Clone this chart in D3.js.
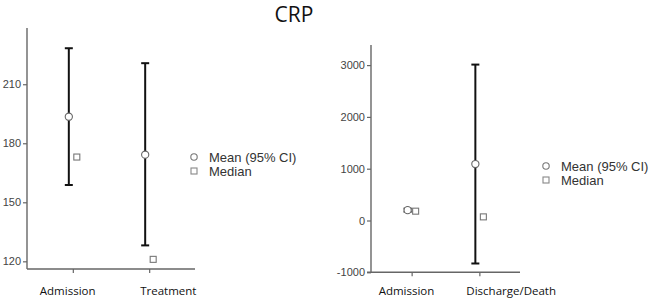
<!DOCTYPE html>
<html>
<head>
<meta charset="utf-8">
<script src="https://cdn.jsdelivr.net/npm/d3@7"></script>
<style>
  body { margin: 0; background: #fff; }
  svg { display: block; }
</style>
</head>
<body>
<svg id="drawing_region" width="652" height="299"></svg>
<script>
// CRP, left panel
const left_categories = ['Admission', 'Treatment'];
const left_mean   = [193.5, 174.2];
const left_lower  = [158.8, 128.1];
const left_upper  = [228.3, 220.7];
const left_median = [173, 121];
const left_ticks  = [120, 150, 180, 210];

// CRP, right panel
const right_categories = ['Admission', 'Discharge/Death'];
const right_mean   = [200, 1090];
const right_lower  = [170, -830];
const right_upper  = [230, 3010];
const right_median = [180, 70];
const right_ticks  = [-1000, 0, 1000, 2000, 3000];

const legend_labels = ['Mean (95% CI)', 'Median'];

const svg = d3.select('#drawing_region');

svg.append('text')
    .attr('x', 294)
    .attr('y', 22)
    .attr('text-anchor', 'middle')
    .style('font-family', '"Open Sans", "Noto Sans", sans-serif')
    .style('font-size', '21px')
    .style('fill', '#111')
    .text('CRP');

function drawPanel(config, cats, mean, lower, upper, median, ticks) {
    const data = cats.map((c, i) => ({
        cat: c, mean: mean[i], lower: lower[i], upper: upper[i], median: median[i]
    }));

    const xscale = d3.scalePoint()
        .domain(cats)
        .range([config.left, config.right])
        .padding(0.6);

    const yscale = d3.scaleLinear()
        .domain(config.ydomain)
        .range([config.bottom, config.top]);

    const g = svg.append('g');

    // y axis
    const yaxis = d3.axisLeft(yscale)
        .tickValues(ticks)
        .tickFormat(d => String(d))
        .tickSize(4)
        .tickSizeOuter(0)
        .tickPadding(2);
    const yg = g.append('g')
        .attr('transform', `translate(${config.left}, 0)`)
        .call(yaxis);
    yg.select('.domain').remove();
    yg.selectAll('.tick line').attr('stroke', '#666').attr('stroke-width', 1.2);
    yg.selectAll('.tick text')
        .attr('fill', '#444')
        .style('font-family', '"Liberation Sans", Arial, sans-serif')
        .style('font-size', '11px');
    g.append('line')
        .attr('x1', config.left).attr('x2', config.left)
        .attr('y1', config.top - 10).attr('y2', config.bottom)
        .attr('stroke', '#666').attr('stroke-width', 1.4);

    // x axis
    const xaxis = d3.axisBottom(xscale)
        .tickSize(4)
        .tickSizeOuter(0)
        .tickFormat('');
    const xg = g.append('g')
        .attr('transform', `translate(0, ${config.bottom})`)
        .call(xaxis);
    xg.select('.domain').remove();
    xg.selectAll('.tick line').attr('stroke', '#666').attr('stroke-width', 1.2);
    g.append('line')
        .attr('x1', config.left - config.xaxisExtend).attr('x2', config.right)
        .attr('y1', config.bottom).attr('y2', config.bottom)
        .attr('stroke', '#666').attr('stroke-width', 1.4);

    // category labels
    g.selectAll('.catlabel')
        .data(data)
        .join('text')
        .attr('class', 'catlabel')
        .attr('x', (d, i) => xscale(d.cat) + config.labelShift[i])
        .attr('y', 295)
        .style('font-family', '"Open Sans", "Noto Sans", sans-serif')
        .style('font-size', '11.5px')
        .style('fill', '#111')
        .text(d => d.cat);

    const dodge = 4;
    const cap = 4;

    // error bars
    const bars = g.selectAll('.ebar')
        .data(data)
        .join('g')
        .attr('class', 'ebar')
        .attr('stroke', '#111')
        .attr('stroke-width', 2);
    bars.append('line')
        .attr('x1', d => xscale(d.cat) - dodge).attr('x2', d => xscale(d.cat) - dodge)
        .attr('y1', d => yscale(d.lower)).attr('y2', d => yscale(d.upper));
    bars.append('line')
        .attr('x1', d => xscale(d.cat) - dodge - cap).attr('x2', d => xscale(d.cat) - dodge + cap)
        .attr('y1', d => yscale(d.upper)).attr('y2', d => yscale(d.upper));
    bars.append('line')
        .attr('x1', d => xscale(d.cat) - dodge - cap).attr('x2', d => xscale(d.cat) - dodge + cap)
        .attr('y1', d => yscale(d.lower)).attr('y2', d => yscale(d.lower));

    // means
    g.selectAll('.mean')
        .data(data)
        .join('circle')
        .attr('class', 'mean')
        .attr('cx', d => xscale(d.cat) - dodge)
        .attr('cy', d => yscale(d.mean))
        .attr('r', 3.6)
        .attr('fill', '#fff')
        .attr('stroke', '#666')
        .attr('stroke-width', 1.1);

    // medians
    g.selectAll('.median')
        .data(data)
        .join('rect')
        .attr('class', 'median')
        .attr('x', d => xscale(d.cat) + dodge - 3)
        .attr('y', d => yscale(d.median) - 3)
        .attr('width', 6)
        .attr('height', 6)
        .attr('fill', '#fff')
        .attr('stroke', '#777')
        .attr('stroke-width', 1.1);

    // legend
    const lg = g.append('g')
        .attr('transform', `translate(${config.legend[0]}, ${config.legend[1]})`);
    lg.append('circle')
        .attr('cx', 0).attr('cy', 0).attr('r', 3.2)
        .attr('fill', '#fff').attr('stroke', '#777').attr('stroke-width', 1.1);
    lg.append('rect')
        .attr('x', -3).attr('y', 11).attr('width', 6).attr('height', 6)
        .attr('fill', '#fff').attr('stroke', '#888').attr('stroke-width', 1.1);
    lg.selectAll('text')
        .data(legend_labels)
        .join('text')
        .attr('x', 15)
        .attr('y', (d, i) => i * 14 + 4.5)
        .style('font-family', '"Liberation Sans", Arial, sans-serif')
        .style('font-size', '13px')
        .style('fill', '#333')
        .text(d => d);
}

drawPanel({
    left: 27, right: 195, top: 38, bottom: 269,
    ydomain: [116.1, 233.5],
    xaxisExtend: 0,
    labelShift: [-33, -9],
    legend: [194, 157]
}, left_categories, left_mean, left_lower, left_upper, left_median, left_ticks);

drawPanel({
    left: 371, right: 520, top: 55, bottom: 272.3,
    ydomain: [-1000, 3195],
    xaxisExtend: 4,
    labelShift: [-33, -13],
    legend: [546, 166]
}, right_categories, right_mean, right_lower, right_upper, right_median, right_ticks);
</script>
</body>
</html>
